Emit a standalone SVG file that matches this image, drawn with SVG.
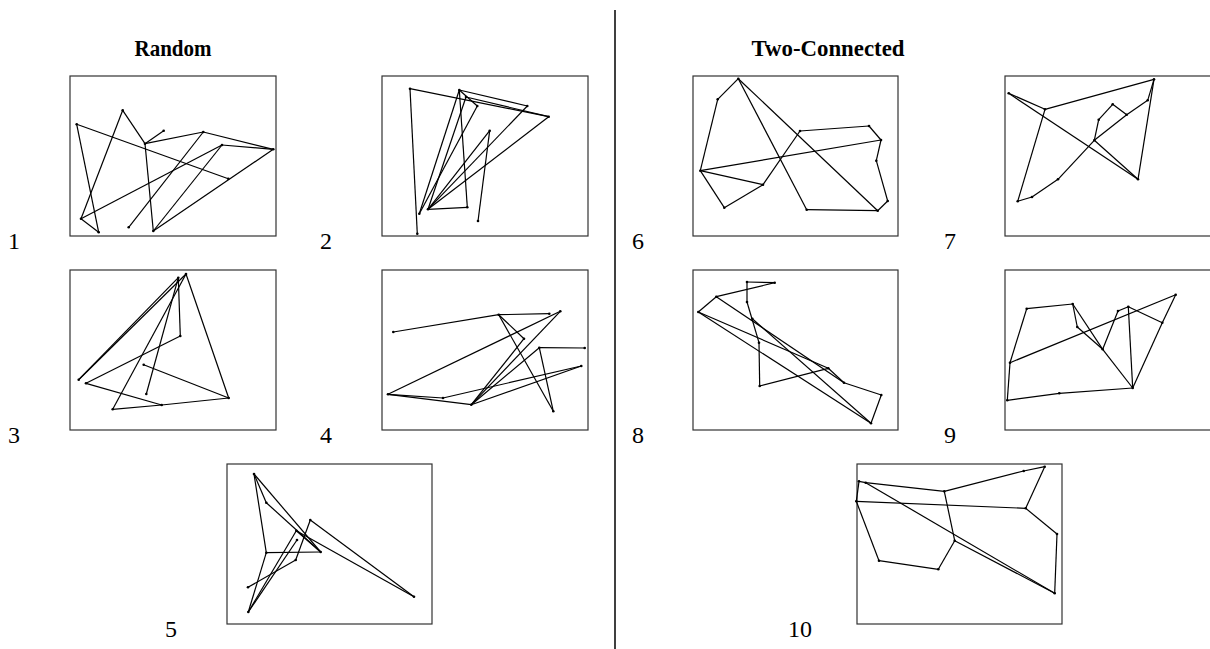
<svg xmlns="http://www.w3.org/2000/svg" width="1210" height="649" viewBox="0 0 1210 649">
<style>
.frame{fill:#fff;stroke:#333;stroke-width:1.2}
.e line{stroke:#000;stroke-width:1.2;fill:none}
.v circle{fill:#000}
.title{font-family:"Liberation Serif",serif;font-weight:bold;font-size:24px;text-anchor:middle}
.num{font-family:"Liberation Serif",serif;font-size:24px;text-anchor:middle}
</style>
<rect width="1210" height="649" fill="#fff"/>
<line x1="615" y1="10" x2="615" y2="649" stroke="#000" stroke-width="1.5"/>
<text class="title" x="173" y="56" textLength="77" lengthAdjust="spacingAndGlyphs">Random</text>
<text class="title" x="828" y="56" textLength="153" lengthAdjust="spacingAndGlyphs">Two-Connected</text>

<g id="panel1">
<rect class="frame" x="70" y="76" width="206" height="160"/>
<g class="e">
<line x1="76.7" y1="124.3" x2="228.3" y2="178.7"/>
<line x1="76.7" y1="124.3" x2="98.7" y2="232.3"/>
<line x1="122.7" y1="110.3" x2="81" y2="218.7"/>
<line x1="122.7" y1="110.3" x2="145" y2="143.7"/>
<line x1="145" y1="143.7" x2="163.7" y2="130.7"/>
<line x1="145" y1="143.7" x2="203.3" y2="132"/>
<line x1="145" y1="143.7" x2="153.3" y2="231"/>
<line x1="203.3" y1="132" x2="273.3" y2="149.3"/>
<line x1="203.3" y1="132" x2="128.7" y2="227.3"/>
<line x1="222" y1="145" x2="273.3" y2="149.3"/>
<line x1="222" y1="145" x2="81" y2="218.7"/>
<line x1="222" y1="145" x2="153.3" y2="231"/>
<line x1="273.3" y1="149.3" x2="153.3" y2="231"/>
<line x1="81" y1="218.7" x2="98.7" y2="232.3"/>
</g>
<g class="v">
<circle cx="76.7" cy="124.3" r="1.3"/><circle cx="122.7" cy="110.3" r="1.3"/><circle cx="145" cy="143.7" r="1.3"/><circle cx="163.7" cy="130.7" r="1.3"/><circle cx="203.3" cy="132" r="1.3"/><circle cx="222" cy="145" r="1.3"/><circle cx="273.3" cy="149.3" r="1.3"/><circle cx="228.3" cy="178.7" r="1.3"/><circle cx="81" cy="218.7" r="1.3"/><circle cx="98.7" cy="232.3" r="1.3"/><circle cx="128.7" cy="227.3" r="1.3"/><circle cx="153.3" cy="231" r="1.3"/>
</g>
<text class="num" x="14" y="249">1</text>
</g>

<g id="panel2">
<rect class="frame" x="382" y="76" width="206" height="160"/>
<g class="e">
<line x1="410" y1="88.7" x2="417.3" y2="233.7"/>
<line x1="410" y1="88.7" x2="548.7" y2="116.7"/>
<line x1="459.3" y1="90" x2="527.3" y2="106"/>
<line x1="459.3" y1="90" x2="477.3" y2="106"/>
<line x1="459.3" y1="90" x2="467.3" y2="207.3"/>
<line x1="466" y1="97" x2="548.7" y2="116.7"/>
<line x1="419.3" y1="213.7" x2="459.3" y2="90"/>
<line x1="419.3" y1="213.7" x2="477.3" y2="106"/>
<line x1="428" y1="209.3" x2="466" y2="97"/>
<line x1="428" y1="209.3" x2="489.7" y2="130.7"/>
<line x1="428" y1="209.3" x2="527.3" y2="106"/>
<line x1="428" y1="209.3" x2="548.7" y2="116.7"/>
<line x1="428" y1="209.3" x2="467.3" y2="207.3"/>
<line x1="489.7" y1="130.7" x2="478" y2="221"/>
</g>
<g class="v">
<circle cx="410" cy="88.7" r="1.3"/><circle cx="417.3" cy="233.7" r="1.3"/><circle cx="459.3" cy="90" r="1.3"/><circle cx="466" cy="97" r="1.3"/><circle cx="477.3" cy="106" r="1.3"/><circle cx="527.3" cy="106" r="1.3"/><circle cx="548.7" cy="116.7" r="1.3"/><circle cx="489.7" cy="130.7" r="1.3"/><circle cx="419.3" cy="213.7" r="1.3"/><circle cx="428" cy="209.3" r="1.3"/><circle cx="467.3" cy="207.3" r="1.3"/><circle cx="478" cy="221" r="1.3"/>
</g>
<text class="num" x="326" y="249">2</text>
</g>

<g id="panel3">
<rect class="frame" x="70" y="270" width="206" height="160"/>
<g class="e">
<line x1="178.3" y1="277.7" x2="180.3" y2="336"/>
<line x1="78.7" y1="379.7" x2="178.3" y2="277.7"/>
<line x1="78.7" y1="379.7" x2="186" y2="274"/>
<line x1="86" y1="383.3" x2="180.3" y2="336"/>
<line x1="86" y1="383.3" x2="161.7" y2="405"/>
<line x1="112.7" y1="409.3" x2="186" y2="274"/>
<line x1="112.7" y1="409.3" x2="161.7" y2="405"/>
<line x1="161.7" y1="405" x2="228.7" y2="398"/>
<line x1="143.7" y1="364.7" x2="228.7" y2="398"/>
<line x1="146.3" y1="394" x2="178.3" y2="277.7"/>
<line x1="186" y1="274" x2="228.7" y2="398"/>
</g>
<g class="v">
<circle cx="178.3" cy="277.7" r="1.3"/><circle cx="186" cy="274" r="1.3"/><circle cx="180.3" cy="336" r="1.3"/><circle cx="143.7" cy="364.7" r="1.3"/><circle cx="78.7" cy="379.7" r="1.3"/><circle cx="86" cy="383.3" r="1.3"/><circle cx="146.3" cy="394" r="1.3"/><circle cx="228.7" cy="398" r="1.3"/><circle cx="161.7" cy="405" r="1.3"/><circle cx="112.7" cy="409.3" r="1.3"/>
</g>
<text class="num" x="14" y="443">3</text>
</g>

<g id="panel4">
<rect class="frame" x="382" y="270" width="206" height="160"/>
<g class="e">
<line x1="393.3" y1="332" x2="498.7" y2="314.7"/>
<line x1="498.7" y1="314.7" x2="549.3" y2="313.7"/>
<line x1="498.7" y1="314.7" x2="524" y2="338.7"/>
<line x1="498.7" y1="314.7" x2="553.3" y2="411.3"/>
<line x1="560.3" y1="311.3" x2="388" y2="394.3"/>
<line x1="560.3" y1="311.3" x2="471.3" y2="404.7"/>
<line x1="524" y1="338.7" x2="471.3" y2="404.7"/>
<line x1="539.3" y1="347.7" x2="584.7" y2="348"/>
<line x1="539.3" y1="347.7" x2="553.3" y2="411.3"/>
<line x1="539.3" y1="347.7" x2="471.3" y2="404.7"/>
<line x1="581.3" y1="366" x2="443" y2="398"/>
<line x1="581.3" y1="366" x2="471.3" y2="404.7"/>
<line x1="388" y1="394.3" x2="471.3" y2="404.7"/>
<line x1="388" y1="394.3" x2="443" y2="398"/>
</g>
<g class="v">
<circle cx="393.3" cy="332" r="1.3"/><circle cx="498.7" cy="314.7" r="1.3"/><circle cx="549.3" cy="313.7" r="1.3"/><circle cx="560.3" cy="311.3" r="1.3"/><circle cx="524" cy="338.7" r="1.3"/><circle cx="539.3" cy="347.7" r="1.3"/><circle cx="584.7" cy="348" r="1.3"/><circle cx="581.3" cy="366" r="1.3"/><circle cx="388" cy="394.3" r="1.3"/><circle cx="443" cy="398" r="1.3"/><circle cx="471.3" cy="404.7" r="1.3"/><circle cx="553.3" cy="411.3" r="1.3"/>
</g>
<text class="num" x="326" y="443">4</text>
</g>

<g id="panel5">
<rect class="frame" x="227" y="464" width="205" height="160"/>
<g class="e">
<line x1="254" y1="474" x2="266.3" y2="502.7"/>
<line x1="254" y1="474" x2="266.3" y2="552.7"/>
<line x1="254" y1="474" x2="320.7" y2="552"/>
<line x1="266.3" y1="502.7" x2="320.7" y2="552"/>
<line x1="310.3" y1="520" x2="414" y2="596.7"/>
<line x1="310.3" y1="520" x2="295.7" y2="560"/>
<line x1="266.3" y1="552.7" x2="320.7" y2="552"/>
<line x1="296.3" y1="530.7" x2="248.3" y2="612"/>
<line x1="248" y1="587.3" x2="295.7" y2="560"/>
<line x1="266.3" y1="552.7" x2="248.3" y2="612"/>
<line x1="296.3" y1="530.7" x2="320.7" y2="552"/>
<line x1="297" y1="540" x2="248.3" y2="612"/>
<line x1="296.3" y1="530.7" x2="414" y2="596.7"/>
</g>
<g class="v">
<circle cx="254" cy="474" r="1.3"/><circle cx="266.3" cy="502.7" r="1.3"/><circle cx="310.3" cy="520" r="1.3"/><circle cx="296.3" cy="530.7" r="1.3"/><circle cx="297" cy="540" r="1.3"/><circle cx="266.3" cy="552.7" r="1.3"/><circle cx="320.7" cy="552" r="1.3"/><circle cx="295.7" cy="560" r="1.3"/><circle cx="248" cy="587.3" r="1.3"/><circle cx="248.3" cy="612" r="1.3"/><circle cx="414" cy="596.7" r="1.3"/>
</g>
<text class="num" x="171" y="637">5</text>
</g>

<g id="panel6">
<rect class="frame" x="693" y="76" width="205" height="160"/>
<g class="e">
<line x1="738.3" y1="78.7" x2="717.7" y2="99.3"/>
<line x1="738.3" y1="78.7" x2="806.7" y2="209.7"/>
<line x1="738.3" y1="78.7" x2="877.7" y2="210.7"/>
<line x1="717.7" y1="99.3" x2="700.3" y2="170.7"/>
<line x1="800" y1="131" x2="869" y2="126"/>
<line x1="800" y1="131" x2="763" y2="184.7"/>
<line x1="869" y1="126" x2="881" y2="140"/>
<line x1="881" y1="140" x2="876.3" y2="160.7"/>
<line x1="881" y1="140" x2="700.3" y2="170.7"/>
<line x1="876.3" y1="160.7" x2="887.7" y2="201"/>
<line x1="700.3" y1="170.7" x2="763" y2="184.7"/>
<line x1="700.3" y1="170.7" x2="724.3" y2="207.7"/>
<line x1="763" y1="184.7" x2="724.3" y2="207.7"/>
<line x1="887.7" y1="201" x2="877.7" y2="210.7"/>
<line x1="806.7" y1="209.7" x2="877.7" y2="210.7"/>
</g>
<g class="v">
<circle cx="738.3" cy="78.7" r="1.3"/><circle cx="717.7" cy="99.3" r="1.3"/><circle cx="800" cy="131" r="1.3"/><circle cx="869" cy="126" r="1.3"/><circle cx="881" cy="140" r="1.3"/><circle cx="876.3" cy="160.7" r="1.3"/><circle cx="700.3" cy="170.7" r="1.3"/><circle cx="763" cy="184.7" r="1.3"/><circle cx="887.7" cy="201" r="1.3"/><circle cx="724.3" cy="207.7" r="1.3"/><circle cx="806.7" cy="209.7" r="1.3"/><circle cx="877.7" cy="210.7" r="1.3"/>
</g>
<text class="num" x="638" y="249">6</text>
</g>

<g id="panel7">
<rect class="frame" x="1005" y="76" width="210" height="160"/>
<g class="e">
<line x1="1154" y1="79.3" x2="1045" y2="109.3"/>
<line x1="1154" y1="79.3" x2="1147.7" y2="100.3"/>
<line x1="1154" y1="79.3" x2="1138" y2="179.3"/>
<line x1="1008.7" y1="93.3" x2="1045" y2="109.3"/>
<line x1="1008.7" y1="93.3" x2="1138" y2="179.3"/>
<line x1="1045" y1="109.3" x2="1017.7" y2="201.3"/>
<line x1="1147.7" y1="100.3" x2="1126.7" y2="114.7"/>
<line x1="1112.7" y1="104.3" x2="1126.7" y2="114.7"/>
<line x1="1112.7" y1="104.3" x2="1098.7" y2="119.7"/>
<line x1="1098.7" y1="119.7" x2="1094.3" y2="140.3"/>
<line x1="1126.7" y1="114.7" x2="1094.3" y2="140.3"/>
<line x1="1094.3" y1="140.3" x2="1058" y2="179.3"/>
<line x1="1094.3" y1="140.3" x2="1138" y2="179.3"/>
<line x1="1058" y1="179.3" x2="1032" y2="197"/>
<line x1="1032" y1="197" x2="1017.7" y2="201.3"/>
</g>
<g class="v">
<circle cx="1154" cy="79.3" r="1.3"/><circle cx="1008.7" cy="93.3" r="1.3"/><circle cx="1045" cy="109.3" r="1.3"/><circle cx="1147.7" cy="100.3" r="1.3"/><circle cx="1112.7" cy="104.3" r="1.3"/><circle cx="1126.7" cy="114.7" r="1.3"/><circle cx="1098.7" cy="119.7" r="1.3"/><circle cx="1094.3" cy="140.3" r="1.3"/><circle cx="1138" cy="179.3" r="1.3"/><circle cx="1058" cy="179.3" r="1.3"/><circle cx="1032" cy="197" r="1.3"/><circle cx="1017.7" cy="201.3" r="1.3"/>
</g>
<text class="num" x="950" y="249">7</text>
</g>

<g id="panel8">
<rect class="frame" x="693" y="270" width="205" height="160"/>
<g class="e">
<line x1="747" y1="282" x2="774.7" y2="282.7"/>
<line x1="774.7" y1="282.7" x2="716.3" y2="296.7"/>
<line x1="747" y1="282" x2="747" y2="302"/>
<line x1="747" y1="302" x2="759" y2="342.7"/>
<line x1="716.3" y1="296.7" x2="698.3" y2="312"/>
<line x1="716.3" y1="296.7" x2="844" y2="382.7"/>
<line x1="698.3" y1="312" x2="828.3" y2="368.3"/>
<line x1="698.3" y1="312" x2="871" y2="423.3"/>
<line x1="752.3" y1="318.7" x2="871" y2="423.3"/>
<line x1="759" y1="342.7" x2="759.7" y2="386"/>
<line x1="759.7" y1="386" x2="828.3" y2="368.3"/>
<line x1="828.3" y1="368.3" x2="844" y2="382.7"/>
<line x1="844" y1="382.7" x2="881.3" y2="395"/>
<line x1="881.3" y1="395" x2="871" y2="423.3"/>
</g>
<g class="v">
<circle cx="747" cy="282" r="1.3"/><circle cx="774.7" cy="282.7" r="1.3"/><circle cx="716.3" cy="296.7" r="1.3"/><circle cx="747" cy="302" r="1.3"/><circle cx="698.3" cy="312" r="1.3"/><circle cx="752.3" cy="318.7" r="1.3"/><circle cx="759" cy="342.7" r="1.3"/><circle cx="759.7" cy="386" r="1.3"/><circle cx="828.3" cy="368.3" r="1.3"/><circle cx="844" cy="382.7" r="1.3"/><circle cx="881.3" cy="395" r="1.3"/><circle cx="871" cy="423.3" r="1.3"/>
</g>
<text class="num" x="638" y="443">8</text>
</g>

<g id="panel9">
<rect class="frame" x="1005" y="270" width="210" height="160"/>
<g class="e">
<line x1="1175.7" y1="294.7" x2="1010" y2="362.7"/>
<line x1="1175.7" y1="294.7" x2="1162.3" y2="322.7"/>
<line x1="1162.3" y1="322.7" x2="1132.7" y2="388"/>
<line x1="1026.7" y1="308.7" x2="1072.7" y2="304"/>
<line x1="1026.7" y1="308.7" x2="1010" y2="362.7"/>
<line x1="1072.7" y1="304" x2="1077.3" y2="327"/>
<line x1="1072.7" y1="304" x2="1102.7" y2="349.3"/>
<line x1="1102.7" y1="349.3" x2="1132.7" y2="388"/>
<line x1="1077.3" y1="327" x2="1102.7" y2="349.3"/>
<line x1="1118" y1="311" x2="1102.7" y2="349.3"/>
<line x1="1128.3" y1="306.7" x2="1118" y2="311"/>
<line x1="1128.3" y1="306.7" x2="1162.3" y2="322.7"/>
<line x1="1128.3" y1="306.7" x2="1132.7" y2="388"/>
<line x1="1010" y1="362.7" x2="1007.3" y2="400.3"/>
<line x1="1007.3" y1="400.3" x2="1059.3" y2="393.3"/>
<line x1="1059.3" y1="393.3" x2="1132.7" y2="388"/>
</g>
<g class="v">
<circle cx="1175.7" cy="294.7" r="1.3"/><circle cx="1026.7" cy="308.7" r="1.3"/><circle cx="1072.7" cy="304" r="1.3"/><circle cx="1128.3" cy="306.7" r="1.3"/><circle cx="1118" cy="311" r="1.3"/><circle cx="1077.3" cy="327" r="1.3"/><circle cx="1162.3" cy="322.7" r="1.3"/><circle cx="1102.7" cy="349.3" r="1.3"/><circle cx="1010" cy="362.7" r="1.3"/><circle cx="1132.7" cy="388" r="1.3"/><circle cx="1059.3" cy="393.3" r="1.3"/><circle cx="1007.3" cy="400.3" r="1.3"/>
</g>
<text class="num" x="950" y="443">9</text>
</g>

<g id="panel10">
<rect class="frame" x="857" y="464" width="205" height="160"/>
<g class="e">
<line x1="1044.7" y1="466.7" x2="1023.7" y2="471"/>
<line x1="1023.7" y1="471" x2="944.3" y2="491.3"/>
<line x1="865.7" y1="482.7" x2="944.3" y2="491.3"/>
<line x1="1044.7" y1="466.7" x2="1025.7" y2="508.3"/>
<line x1="859" y1="481.3" x2="856.3" y2="501.3"/>
<line x1="859" y1="481.3" x2="865.7" y2="482.7"/>
<line x1="865.7" y1="482.7" x2="1054.7" y2="593.3"/>
<line x1="944.3" y1="491.3" x2="954.7" y2="540.7"/>
<line x1="856.3" y1="501.3" x2="1025.7" y2="508.3"/>
<line x1="856.3" y1="501.3" x2="879" y2="560.7"/>
<line x1="1025.7" y1="508.3" x2="1057" y2="534"/>
<line x1="1057" y1="534" x2="1054.7" y2="593.3"/>
<line x1="954.7" y1="540.7" x2="938.3" y2="569.3"/>
<line x1="879" y1="560.7" x2="938.3" y2="569.3"/>
<line x1="954.7" y1="540.7" x2="1054.7" y2="593.3"/>
</g>
<g class="v">
<circle cx="1044.7" cy="466.7" r="1.3"/><circle cx="1023.7" cy="471" r="1.3"/><circle cx="859" cy="481.3" r="1.3"/><circle cx="865.7" cy="482.7" r="1.3"/><circle cx="944.3" cy="491.3" r="1.3"/><circle cx="856.3" cy="501.3" r="1.3"/><circle cx="1025.7" cy="508.3" r="1.3"/><circle cx="1057" cy="534" r="1.3"/><circle cx="954.7" cy="540.7" r="1.3"/><circle cx="879" cy="560.7" r="1.3"/><circle cx="938.3" cy="569.3" r="1.3"/><circle cx="1054.7" cy="593.3" r="1.3"/>
</g>
<text class="num" x="800" y="637">10</text>
</g>
</svg>
